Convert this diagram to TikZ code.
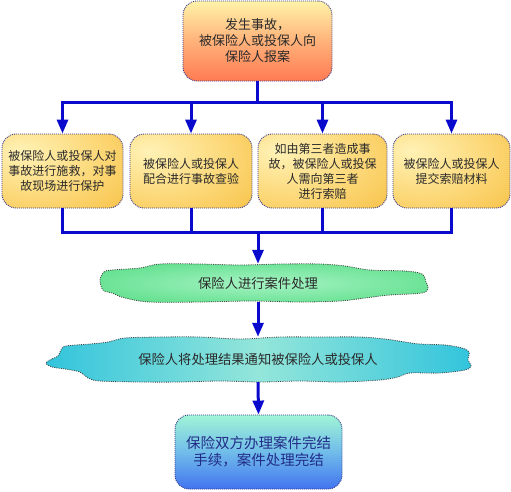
\documentclass[tikz,border=0pt]{standalone}
\usepackage{fontspec}
\newfontfamily\cjk{Noto Sans CJK SC}
\usetikzlibrary{arrows.meta}
\definecolor{lineblue}{HTML}{0A0ACC}
\definecolor{bordc}{HTML}{3A3A8A}
\definecolor{txt}{HTML}{2A2A2A}
\definecolor{ftxt}{HTML}{222C88}
\definecolor{topA}{HTML}{FFF3A8}
\definecolor{topB}{HTML}{FFB27A}
\definecolor{topC}{HTML}{FF7A52}
\definecolor{rowA}{HTML}{FFF2B6}
\definecolor{rowM}{HTML}{FCD878}
\definecolor{rowB}{HTML}{F5B934}
\definecolor{grnA}{HTML}{A6F3C4}
\definecolor{grnM}{HTML}{62E08E}
\definecolor{grnB}{HTML}{2ECC5E}
\definecolor{cyA}{HTML}{32C4DC}
\definecolor{cyB}{HTML}{94E6DA}
\definecolor{finA}{HTML}{A0F5D6}
\definecolor{finB}{HTML}{70BCEA}
\definecolor{finC}{HTML}{4274F0}
\pgfdeclareradialshading{rowshade}{\pgfpoint{-18bp}{14bp}}{%
  color(0bp)=(rowA); color(28bp)=(rowM); color(58bp)=(rowB); color(100bp)=(rowB)}
\pgfdeclareradialshading{grnshade}{\pgfpoint{0bp}{0bp}}{%
  color(0bp)=(grnA); color(30bp)=(grnM); color(50bp)=(grnB); color(75bp)=(grnB)}
\begin{document}
\begin{tikzpicture}[x=1pt,y=-1pt,
  box/.style={draw=bordc, dash pattern=on 1pt off 1pt, line width=0.9pt,
    rounded corners=14pt, align=center, text=txt, inner sep=0pt},
  rowbox/.style={box, shading=rowshade, minimum height=74pt,
    font=\cjk\fontsize{12}{15}\selectfont},
  wave/.style={draw=black!75, dash pattern=on 1pt off 1.2pt, line width=0.8pt},
  lbl/.style={align=center, text=txt, inner sep=0pt, font=\cjk\fontsize{13.3}{16}\selectfont},
  conn/.style={draw=lineblue, line width=3pt},
  bar/.style={conn, line cap=rect},
  arr/.style={conn, -{Triangle[width=11pt,length=14pt]}}
]
\useasboundingbox (0,0) rectangle (511,491);

% top box
\node[box, top color=topA, bottom color=topC, middle color=topB,
  minimum width=149pt, minimum height=80pt,
  font=\cjk\fontsize{13}{16}\selectfont] (top) at (257.5,41)
  {发生事故，\\被保险人或投保人向\\保险人报案};

% row boxes
\node[rowbox, minimum width=121pt] (b1) at (62.5,171)
  {被保险人或投保人对\\事故进行施救，对事\\故现场进行保护};
\node[rowbox, minimum width=122pt] (b2) at (191,171)
  {被保险人或投保人\\配合进行事故查验};
\node[rowbox, minimum width=129pt] (b3) at (322.5,171)
  {如由第三者造成事\\故，被保险人或投保\\人需向第三者\\进行索赔};
\node[rowbox, minimum width=117pt] (b4) at (451.5,171)
  {被保险人或投保人\\提交索赔材料};

% green wave
\path[wave, shading=grnshade]
  plot[smooth cycle, tension=0.55] coordinates {
  (100,280) (104,272) (112,270) (140,268) (160,264) (200,264) (240,265)
  (280,264) (320,264) (345,266) (370,270) (405,271) (422,274) (426,282)
  (428,288) (422,293) (390,295) (365,298) (340,301) (300,302) (250,301)
  (200,302) (150,302) (125,298) (112,293) (103,290)};
\node[lbl, minimum width=320pt, minimum height=38pt] (g) at (258,283)
  {保险人进行案件处理};

% cyan wave
\path[wave, left color=cyA, right color=cyA, middle color=cyB]
  plot[smooth cycle, tension=0.55] coordinates {
  (46,363) (52,359) (58,356) (61,350) (66,346) (90,344) (108,342) (125,338)
  (160,337) (200,337) (240,339) (280,337) (320,337) (360,337) (385,339)
  (405,342) (420,344) (445,345) (462,348) (469,352) (468,360) (471,366)
  (465,370) (440,373) (410,373) (398,377) (380,380) (340,382) (300,381)
  (260,382) (220,381) (180,382) (140,382) (100,381) (88,378) (80,372)
  (65,369) (52,367)};
\node[lbl, minimum width=420pt, minimum height=45pt] (c) at (258,359.5)
  {保险人将处理结果通知被保险人或投保人};

% final box
\node[box, top color=finA, bottom color=finC, middle color=finB, text=ftxt,
  minimum width=167pt, minimum height=74pt,
  font=\cjk\fontsize{14.5}{17}\selectfont] (f) at (258.5,452)
  {保险双方办理案件完结\\手续，案件处理完结};

% connectors
\coordinate (j1) at (257.5,102);
\coordinate (j2) at (258,232);
\draw[conn] (top.south) -- (j1);
\draw[bar] (b1.north |- j1) -- (b4.north |- j1);
\foreach \b in {b1,b2,b3,b4}
  \draw[arr] (\b.north |- j1) -- (\b.north);
\foreach \b in {b1,b2,b3,b4}
  \draw[conn] (\b.south) -- (\b.south |- j2);
\draw[bar] (b1.south |- j2) -- (b4.south |- j2);
\draw[arr] (j2) -- (g.north);
\draw[arr] (g.south) -- (c.north);
\draw[arr] (c.south) -- (f.north);
\end{tikzpicture}
\end{document}
